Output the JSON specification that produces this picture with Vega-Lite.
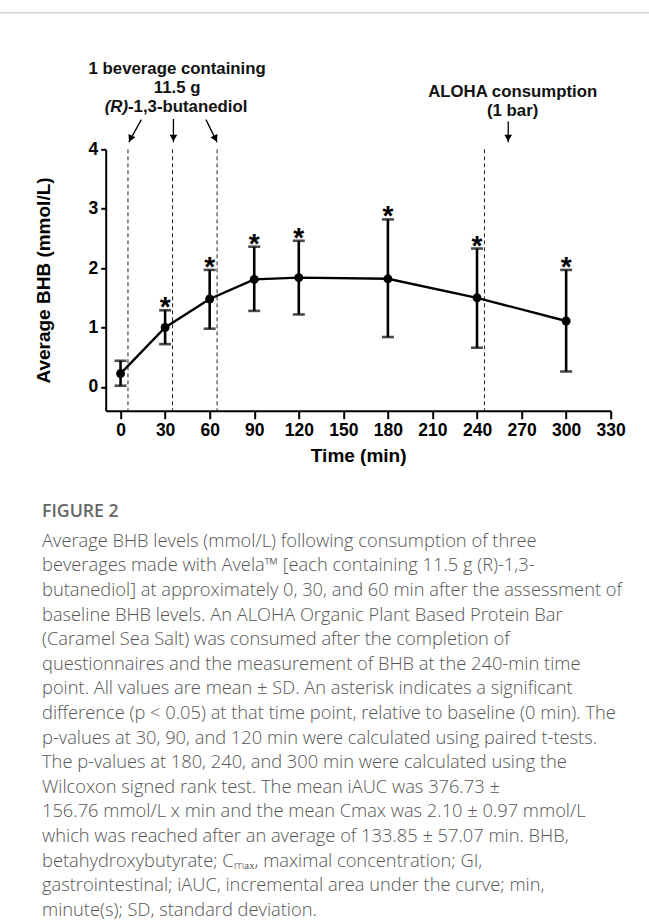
{
  "$schema": "https://vega.github.io/schema/vega-lite/v6.json",
  "autosize": {"type": "none"},
  "width": 505,
  "height": 261.4,
  "padding": {"left": 105.7, "top": 149.3, "right": 38.3, "bottom": 509.3},
  "background": "white",
  "config": {"view": {"stroke": null}, "font": "Liberation Sans"},
  "title": {
    "text": "FIGURE 2",
    "subtitle": [
      "Average BHB levels (mmol/L) following consumption of three",
      "beverages made with Avela™ [each containing 11.5 g (R)-1,3-",
      "butanediol] at approximately 0, 30, and 60 min after the assessment of",
      "baseline BHB levels. An ALOHA Organic Plant Based Protein Bar",
      "(Caramel Sea Salt) was consumed after the completion of",
      "questionnaires and the measurement of BHB at the 240-min time",
      "point. All values are mean ± SD. An asterisk indicates a significant",
      "difference (p < 0.05) at that time point, relative to baseline (0 min). The",
      "p-values at 30, 90, and 120 min were calculated using paired t-tests.",
      "The p-values at 180, 240, and 300 min were calculated using the",
      "Wilcoxon signed rank test. The mean iAUC was 376.73 ±",
      "156.76 mmol/L x min and the mean Cmax was 2.10 ± 0.97 mmol/L",
      "which was reached after an average of 133.85 ± 57.07 min. BHB,",
      "betahydroxybutyrate; Cₘₐₓ, maximal concentration; GI,",
      "gastrointestinal; iAUC, incremental area under the curve; min,",
      "minute(s); SD, standard deviation."
    ],
    "orient": "bottom",
    "anchor": "start",
    "frame": "group",
    "dx": -63.7,
    "offset": 38,
    "font": "Open Sans",
    "fontSize": 17.7,
    "fontWeight": 600,
    "color": "#666666",
    "subtitleFont": "Open Sans",
    "subtitleFontSize": 18.3,
    "subtitleFontWeight": 300,
    "subtitleColor": "#555555",
    "subtitleLineHeight": 24.6,
    "subtitlePadding": 12
  },
  "datasets": {
    "bhb": [
      {"time": 0, "mean": 0.225, "lower": 0.02, "upper": 0.44, "sig": ""},
      {"time": 30, "mean": 1.0, "lower": 0.72, "upper": 1.29, "sig": "*"},
      {"time": 60, "mean": 1.48, "lower": 0.98, "upper": 1.97, "sig": "*"},
      {"time": 90, "mean": 1.81, "lower": 1.28, "upper": 2.36, "sig": "*"},
      {"time": 120, "mean": 1.84, "lower": 1.22, "upper": 2.46, "sig": "*"},
      {"time": 180, "mean": 1.82, "lower": 0.84, "upper": 2.82, "sig": "*"},
      {"time": 240, "mean": 1.5, "lower": 0.66, "upper": 2.33, "sig": "*"},
      {"time": 300, "mean": 1.11, "lower": 0.26, "upper": 1.97, "sig": "*"}
    ],
    "dashes": [{"time": 5}, {"time": 35}, {"time": 65}, {"time": 245}],
    "arrows": [
      {"id": "left", "time": 14.0, "val": 4.5, "time2": 5.6, "val2": 4.12},
      {"id": "mid", "time": 35.6, "val": 4.51, "time2": 35.6, "val2": 4.12},
      {"id": "right", "time": 57.5, "val": 4.5, "time2": 65, "val2": 4.12},
      {"id": "aloha", "time": 261, "val": 4.47, "time2": 261, "val2": 4.12}
    ],
    "heads": [
      {"id": "left", "time": 6.7, "val": 4.18},
      {"id": "mid", "time": 35.6, "val": 4.19},
      {"id": "right", "time": 63.9, "val": 4.18},
      {"id": "aloha", "time": 261, "val": 4.19}
    ],
    "labels": [
      {"time": 38.1, "val": 5.36, "label": "1 beverage containing"},
      {"time": 38.1, "val": 5.04, "label": "11.5 g"},
      {"time": 264, "val": 4.97, "label": "ALOHA consumption"},
      {"time": 264, "val": 4.65, "label": "(1 bar)"}
    ],
    "rlabel": [{"time": 5.0, "val": 4.72, "italic": "(R)", "rest": "-1,3-butanediol"}],
    "topline": [{"time": -81, "time2": 356, "val": 6.3}]
  },
  "layer": [
    {
      "data": {"name": "topline"},
      "mark": {"type": "rule", "color": "#d0d0d0", "strokeWidth": 1.5},
      "encoding": {
        "x": {"field": "time", "type": "quantitative", "scale": {"domain": [-10, 330], "nice": false, "zero": false},
          "axis": {"title": "Time (min)", "values": [0, 30, 60, 90, 120, 150, 180, 210, 240, 270, 300, 330], "grid": false,
            "tickSize": 8, "tickWidth": 2, "tickColor": "black", "domainWidth": 2, "domainColor": "black",
            "labelFontSize": 17.5, "labelFontWeight": "bold", "labelColor": "black", "labelPadding": 3, "labelFlush": false, "labelOverlap": false,
            "titleFontSize": 19, "titleFontWeight": "bold", "titleColor": "black", "titlePadding": 7}},
        "x2": {"field": "time2"},
        "y": {"field": "val", "type": "quantitative", "title": "Average BHB (mmol/L)", "scale": {"domain": [-0.4, 4], "nice": false, "zero": false},
          "axis": {"title": "Average BHB (mmol/L)", "values": [0, 1, 2, 3, 4], "format": "d", "grid": false,
            "tickSize": 5, "tickWidth": 2, "tickColor": "black", "domainWidth": 2, "domainColor": "black",
            "labelFontSize": 17.5, "labelFontWeight": "bold", "labelColor": "black", "labelPadding": 3, "labelFlush": false,
            "titleFontSize": 19, "titleFontWeight": "bold", "titleColor": "black", "titlePadding": 34}}
      }
    },
    {
      "data": {"name": "dashes"},
      "mark": {"type": "rule", "color": "#222222", "strokeWidth": 1, "strokeDash": [4, 3]},
      "encoding": {"x": {"field": "time", "type": "quantitative"}}
    },
    {
      "data": {"name": "bhb"},
      "mark": {"type": "errorbar", "color": "black", "thickness": 2.6, "ticks": {"size": 12, "thickness": 2.6, "color": "black"}},
      "encoding": {
        "x": {"field": "time", "type": "quantitative"},
        "y": {"field": "lower", "type": "quantitative", "title": "Average BHB (mmol/L)"},
        "y2": {"field": "upper"}
      }
    },
    {
      "data": {"name": "bhb"},
      "mark": {"type": "line", "color": "black", "strokeWidth": 2.4},
      "encoding": {
        "x": {"field": "time", "type": "quantitative"},
        "y": {"field": "mean", "type": "quantitative", "title": "Average BHB (mmol/L)"}
      }
    },
    {
      "data": {"name": "bhb"},
      "mark": {"type": "point", "filled": true, "color": "black", "size": 80, "opacity": 1},
      "encoding": {
        "x": {"field": "time", "type": "quantitative"},
        "y": {"field": "mean", "type": "quantitative", "title": "Average BHB (mmol/L)"}
      }
    },
    {
      "data": {"name": "bhb"},
      "mark": {"type": "text", "fontSize": 28, "fontWeight": "bold", "color": "black", "baseline": "alphabetic", "dy": 6},
      "encoding": {
        "x": {"field": "time", "type": "quantitative"},
        "y": {"field": "upper", "type": "quantitative", "title": "Average BHB (mmol/L)"},
        "text": {"field": "sig"}
      }
    },
    {
      "data": {"name": "arrows"},
      "mark": {"type": "rule", "color": "black", "strokeWidth": 1.3},
      "encoding": {
        "x": {"field": "time", "type": "quantitative"},
        "x2": {"field": "time2"},
        "y": {"field": "val", "type": "quantitative", "title": "Average BHB (mmol/L)"},
        "y2": {"field": "val2"}
      }
    },
    {
      "data": {"name": "heads"},
      "transform": [{"filter": "datum.id == 'mid' || datum.id == 'aloha'"}],
      "mark": {"type": "point", "shape": "triangle-down", "filled": true, "color": "black", "size": 60, "opacity": 1},
      "encoding": {
        "x": {"field": "time", "type": "quantitative"},
        "y": {"field": "val", "type": "quantitative", "title": "Average BHB (mmol/L)"}
      }
    },
    {
      "data": {"name": "heads"},
      "transform": [{"filter": "datum.id == 'left'"}],
      "mark": {"type": "point", "shape": "triangle-down", "filled": true, "color": "black", "size": 60, "opacity": 1, "angle": 25},
      "encoding": {
        "x": {"field": "time", "type": "quantitative"},
        "y": {"field": "val", "type": "quantitative", "title": "Average BHB (mmol/L)"}
      }
    },
    {
      "data": {"name": "heads"},
      "transform": [{"filter": "datum.id == 'right'"}],
      "mark": {"type": "point", "shape": "triangle-down", "filled": true, "color": "black", "size": 60, "opacity": 1, "angle": -25},
      "encoding": {
        "x": {"field": "time", "type": "quantitative"},
        "y": {"field": "val", "type": "quantitative", "title": "Average BHB (mmol/L)"}
      }
    },
    {
      "data": {"name": "labels"},
      "mark": {"type": "text", "fontSize": 16.8, "fontWeight": "bold", "color": "#111111", "align": "center", "baseline": "middle"},
      "encoding": {
        "x": {"field": "time", "type": "quantitative"},
        "y": {"field": "val", "type": "quantitative", "title": "Average BHB (mmol/L)"},
        "text": {"field": "label"}
      }
    },
    {
      "data": {"name": "rlabel"},
      "mark": {"type": "text", "fontSize": 16.8, "fontWeight": "bold", "fontStyle": "italic", "color": "#111111", "align": "right", "baseline": "middle"},
      "encoding": {
        "x": {"field": "time", "type": "quantitative"},
        "y": {"field": "val", "type": "quantitative", "title": "Average BHB (mmol/L)"},
        "text": {"field": "italic"}
      }
    },
    {
      "data": {"name": "rlabel"},
      "mark": {"type": "text", "fontSize": 16.8, "fontWeight": "bold", "color": "#111111", "align": "left", "baseline": "middle"},
      "encoding": {
        "x": {"field": "time", "type": "quantitative"},
        "y": {"field": "val", "type": "quantitative", "title": "Average BHB (mmol/L)"},
        "text": {"field": "rest"}
      }
    }
  ]
}
